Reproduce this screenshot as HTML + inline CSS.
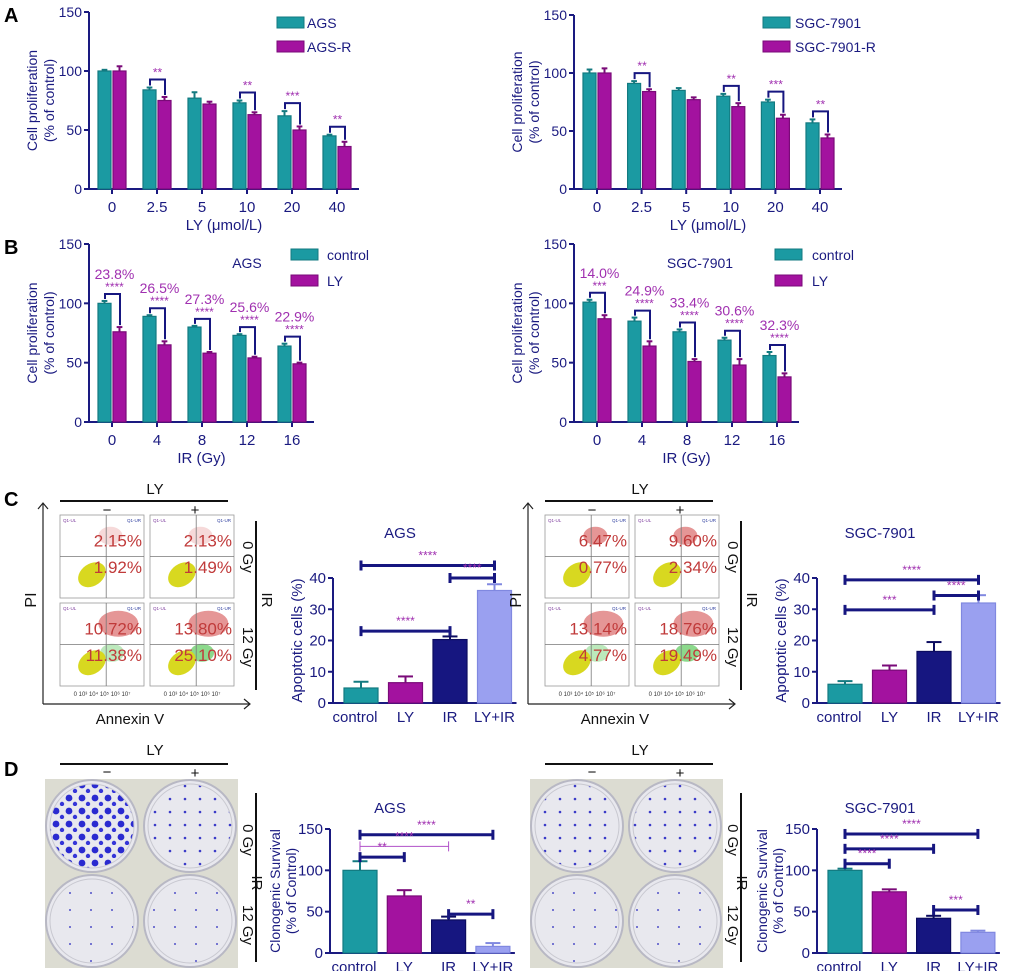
<!DOCTYPE html>
<html><head><meta charset="utf-8"><style>
body{margin:0;background:#fff}
svg{display:block;font-family:"Liberation Sans",Arial,sans-serif}
</style></head><body>
<svg id="fig" width="1020" height="971" viewBox="0 0 1020 971" xmlns="http://www.w3.org/2000/svg">
<defs>
<pattern id="dotsBig" width="13" height="13" patternUnits="userSpaceOnUse"><circle cx="4" cy="5" r="3.4" fill="#2a2ad0"/><circle cx="10" cy="11" r="2.2" fill="#3535d8"/></pattern>
<pattern id="dotsSmall" width="15" height="13" patternUnits="userSpaceOnUse"><circle cx="5" cy="6" r="1.3" fill="#3b3bc8"/></pattern>
<pattern id="dotsTiny" width="21" height="17" patternUnits="userSpaceOnUse"><circle cx="7" cy="9" r="1" fill="#5050c8"/></pattern>
</defs>
</svg>
<script>
const NS="http://www.w3.org/2000/svg";
const svg=document.getElementById('fig');
function mk(tag,attrs,parent,txt){const e=document.createElementNS(NS,tag);for(const k in attrs)e.setAttribute(k,attrs[k]);if(txt!==undefined)e.textContent=txt;(parent||svg).appendChild(e);return e;}
const AX="#1a1a80";

// ===== Data =====
const aCats=["0","2.5","5","10","20","40"];
const aAgs=[100,84,77,73,62,45];
const aAgsErr=[1,2,5,2,4,1];
const aAgsR=[100,75,72,63,50,36];
const aAgsRErr=[4,3,2,2,3,4];
const aSgc=[100,91,85,80,75,57];
const aSgcErr=[3,2,2,2,2,3];
const aSgcR=[100,84,77,71,61,44];
const aSgcRErr=[4,2,2,3,3,3];
const aLeftSig=[[1,"**"],[3,"**"],[4,"***"],[5,"**"]];
const aRightSig=[[1,"**"],[3,"**"],[4,"***"],[5,"**"]];
const bCats=["0","4","8","12","16"];
const bAgsCtl=[100,89,80,73,64];
const bAgsCtlErr=[2,1,1,1,2];
const bAgsLy=[76,65,58,54,49];
const bAgsLyErr=[4,3,1,1,1];
const bAgsPct=["23.8%","26.5%","27.3%","25.6%","22.9%"];
const bAgsStars=["****","****","****","****","****"];
const bSgcCtl=[101,85,76,69,56];
const bSgcCtlErr=[2,3,2,2,3];
const bSgcLy=[87,64,51,48,38];
const bSgcLyErr=[3,4,2,5,3];
const bSgcPct=["14.0%","24.9%","33.4%","30.6%","32.3%"];
const bSgcStars=["***","****","****","****","****"];
const grpCats=["control","LY","IR","LY+IR"];
const cAgs=[4.8,6.5,20.3,36];
const cAgsErr=[2,2,1,2];
const cSgc=[6,10.5,16.5,32];
const cSgcErr=[1,1.5,3,2.5];
const cAgsSig=[[0,3,44,"****"],[2,3,40,"****"],[0,2,23,"****"]];
const cSgcSig=[[0,3,39.4,"****"],[2,3,34.4,"****"],[0,2,29.8,"***"]];
const dAgs=[100,69,40,8];
const dAgsErr=[11,7,4,4];
const dSgc=[100,74,42,25];
const dSgcErr=[2,3,3,2];
const dAgsSig=[[0,3,143,"****"],[0,2,129,"****"],[0,1,116,"**"],[2,3,47,"**"]];
const dSgcSig=[[0,3,144,"****"],[0,2,126,"****"],[0,1,108,"****"],[2,3,52,"***"]];
const flowLeft=["2.15%","1.92%","2.13%","1.49%","10.72%","11.38%","13.80%","25.10%"];
const flowRight=["6.47%","0.77%","9.60%","2.34%","13.14%","4.77%","18.76%","19.49%"];

const TEAL="#1b9aa2",TEALD="#137a80",MAG="#a3129f",MAGD="#7a0a78",NAVY="#161680",LAV="#9aa0f0";

function axes(g,x0,xEnd,yS,max,ticks,fs){
  mk('line',{x1:x0,y1:yS(max),x2:x0,y2:yS(0),stroke:AX,'stroke-width':2},g);
  mk('line',{x1:x0,y1:yS(0),x2:xEnd,y2:yS(0),stroke:AX,'stroke-width':2},g);
  ticks.forEach(t=>{
    mk('line',{x1:x0-5,y1:yS(t),x2:x0,y2:yS(t),stroke:AX,'stroke-width':2},g);
    const tl=mk('text',{x:x0-7,y:yS(t)+5,'text-anchor':'end','font-size':fs,fill:AX},g,String(t));
    
    
  });
}
function bar(g,x,w,yS,v,err,fill,stroke,name){
  const r=mk('rect',{x:x,y:yS(v),width:w,height:yS(0)-yS(v),fill:fill,stroke:stroke,'stroke-width':1.2},g);
  
  
  const cx=x+w/2;
  mk('line',{x1:cx,y1:yS(v),x2:cx,y2:yS(v+err),stroke:stroke,'stroke-width':2},g);
  mk('line',{x1:cx-w*0.22,y1:yS(v+err),x2:cx+w*0.22,y2:yS(v+err),stroke:stroke,'stroke-width':2},g);
}
function yTitle(g,xs,cy,lines,fs){
  lines.forEach((t,i)=>{const e=mk('text',{x:0,y:0,transform:`translate(${xs[i]},${cy}) rotate(-90)`,'text-anchor':'middle','font-size':fs,fill:AX},g,t);
  });
}
function txt(g,x,y,s,fs,fill,anchor,name,extra){
  const e=mk('text',Object.assign({x:x,y:y,'font-size':fs,fill:fill||AX,'text-anchor':anchor||'middle'},extra||{}),g,s);
  
  
  return e;
}

// ===== Panel A / B paired charts =====
function pairChart(o){
  const g=mk('g',{});
  
  
  const yS=v=>o.yBot-(o.yBot-o.yTop)*v/150;
  const xS=i=>o.x0+23+i*o.step;
  axes(g,o.x0,xS(o.cats.length-1)+22,yS,150,[0,50,100,150],14);
  o.cats.forEach((c,i)=>{
    mk('line',{x1:xS(i),y1:yS(0),x2:xS(i),y2:yS(0)+5,stroke:AX,'stroke-width':2},g);
    txt(g,xS(i),yS(0)+23,c,15,AX,'middle','x-tick-label');
    bar(g,xS(i)-14,13,yS,o.s1[i],o.e1[i],TEAL,TEALD,'bar-'+o.n1+'-'+c);
    bar(g,xS(i)+1,13,yS,o.s2[i],o.e2[i],MAG,MAGD,'bar-'+o.n2+'-'+c);
  });
  (o.sig||[]).forEach(([i,s])=>{
    const y1=yS(o.s1[i]+o.e1[i]),y2=yS(o.s2[i]+o.e2[i]),top=Math.min(y1,y2)-8;
    const a=xS(i)-7,b=xS(i)+8;
    mk('polyline',{points:`${a},${y1-2} ${a},${top} ${b},${top} ${b},${y2-2}`,fill:'none',stroke:NAVY,'stroke-width':2},g);
    txt(g,(a+b)/2,top-3,s,12,'#a030b0','middle','significance-stars');
  });
  (o.pct||[]).forEach((p,i)=>{
    const y1=yS(o.s1[i]+o.e1[i]),y2=yS(o.s2[i]+o.e2[i]),top=Math.min(y1,y2)-7;
    const a=xS(i)-7,b=xS(i)+8;
    mk('polyline',{points:`${a},${y1-2} ${a},${top} ${b},${top} ${b},${y2-2}`,fill:'none',stroke:NAVY,'stroke-width':2},g);
    txt(g,(a+b)/2+2,top-3,o.stars[i],12,'#a030b0','middle','significance-stars');
    txt(g,(a+b)/2+2,top-15,p,14,'#a030b0','middle','percent-reduction');
  });
  yTitle(g,[o.x0-52,o.x0-35],(o.yTop+o.yBot)/2,["Cell proliferation","(% of control)"],14);
  txt(g,(o.x0+xS(o.cats.length-1)+22)/2,yS(0)+41,o.xTitle,15,AX,'middle','x-axis-title');
  const L=o.leg;
  [[TEAL,TEALD,L.l1,0],[MAG,MAGD,L.l2,1]].forEach(([f,s,l,k])=>{
    const r=mk('rect',{x:L.x,y:L.y+k*L.dy,width:27,height:11,fill:f,stroke:s},g);
    
    txt(g,L.x+L.tx,L.y+k*L.dy+11,l,14,AX,'start','legend-entry');
  });
  if(o.title)txt(g,o.title[0],o.title[1],o.title[2],14,AX,'middle','chart-title');
}
pairChart({name:'chart-a-ags',x0:89,yTop:12,yBot:189,step:45,cats:aCats,s1:aAgs,e1:aAgsErr,s2:aAgsR,e2:aAgsRErr,n1:'ags',n2:'ags-r',sig:aLeftSig,xTitle:'LY (μmol/L)',leg:{x:277,y:17,dy:24,tx:30,l1:'AGS',l2:'AGS-R'}});
pairChart({name:'chart-a-sgc',x0:574,yTop:15,yBot:189,step:44.6,cats:aCats,s1:aSgc,e1:aSgcErr,s2:aSgcR,e2:aSgcRErr,n1:'sgc',n2:'sgc-r',sig:aRightSig,xTitle:'LY (μmol/L)',leg:{x:763,y:17,dy:24,tx:32,l1:'SGC-7901',l2:'SGC-7901-R'}});
pairChart({name:'chart-b-ags',x0:89,yTop:244,yBot:422,step:45,cats:bCats,s1:bAgsCtl,e1:bAgsCtlErr,s2:bAgsLy,e2:bAgsLyErr,n1:'control',n2:'ly',pct:bAgsPct,stars:bAgsStars,xTitle:'IR (Gy)',leg:{x:291,y:249,dy:26,tx:36,l1:'control',l2:'LY'},title:[247,268,'AGS']});
pairChart({name:'chart-b-sgc',x0:574,yTop:244,yBot:422,step:45,cats:bCats,s1:bSgcCtl,e1:bSgcCtlErr,s2:bSgcLy,e2:bSgcLyErr,n1:'control',n2:'ly',pct:bSgcPct,stars:bSgcStars,xTitle:'IR (Gy)',leg:{x:775,y:249,dy:26,tx:37,l1:'control',l2:'LY'},title:[700,268,'SGC-7901']});

// ===== Panel C / D group charts =====
function groupChart(o){
  const g=mk('g',{});
  
  
  const yS=v=>o.yBot-(o.yBot-o.yTop)*v/o.max;
  const xS=i=>o.x0+o.first+i*o.step;
  axes(g,o.x0,xS(3)+22,yS,o.max,o.ticks,15);
  const fills=[[TEAL,TEALD],[MAG,MAGD],[NAVY,'#0c0c60'],[LAV,'#8088e0']];
  o.vals.forEach((v,i)=>{
    bar(g,xS(i)-17,34,yS,v,o.errs[i],fills[i][0],fills[i][1],'bar-'+grpCats[i].toLowerCase());
    txt(g,xS(i)+(i==0?-6:0),yS(0)+19,grpCats[i],15,AX,'middle','x-tick-label');
  });
  o.sig.forEach(([i,j,v,s],k)=>{
    const y=yS(v),a=xS(i),b=xS(j);
    const thin=(o.thinIdx===k);
    const col=thin?'#b050c8':NAVY,w=thin?1:3;
    mk('line',{x1:a,y1:y,x2:b,y2:y,stroke:col,'stroke-width':w},g);
    mk('line',{x1:a,y1:y-5,x2:a,y2:y+5,stroke:col,'stroke-width':w},g);
    mk('line',{x1:b,y1:y-5,x2:b,y2:y+5,stroke:col,'stroke-width':w},g);
    txt(g,(a+b)/2,y-6,s,12,'#a030b0','middle','significance-stars');
  });
  yTitle(g,o.tx,(o.yTop+o.yBot)/2,o.lines,o.lines.length>1?14:15);
  txt(g,o.title[0],o.title[1],o.title[2],15,AX,'middle','chart-title');
}
groupChart({name:'chart-c-ags',x0:333,yTop:578,yBot:703,max:40,ticks:[0,10,20,30,40],first:28,step:44.5,vals:cAgs,errs:cAgsErr,sig:cAgsSig,lines:['Apoptotic cells (%)'],tx:[302],title:[400,538,'AGS']});
groupChart({name:'chart-c-sgc',x0:817,yTop:578,yBot:703,max:40,ticks:[0,10,20,30,40],first:28,step:44.5,vals:cSgc,errs:cSgcErr,sig:cSgcSig,lines:['Apoptotic cells (%)'],tx:[786],title:[880,538,'SGC-7901']});
groupChart({name:'chart-d-ags',x0:330,yTop:829,yBot:953,max:150,ticks:[0,50,100,150],first:30,step:44.3,vals:dAgs,errs:dAgsErr,sig:dAgsSig,thinIdx:1,lines:['Clonogenic Survival','(% of Control)'],tx:[280,296],title:[390,813,'AGS']});
groupChart({name:'chart-d-sgc',x0:817,yTop:829,yBot:953,max:150,ticks:[0,50,100,150],first:28,step:44.3,vals:dSgc,errs:dSgcErr,sig:dSgcSig,lines:['Clonogenic Survival','(% of Control)'],tx:[767,783],title:[880,813,'SGC-7901']});

// ===== Flow cytometry panels =====
function flow(ox,vals,name,redBoost){
  const g=mk('g',{});
  
  
  txt(g,ox+155,494,'LY',15,'#111','middle','ly-label');
  mk('line',{x1:ox+60,y1:501,x2:ox+228,y2:501,stroke:'#111','stroke-width':2},g);
  txt(g,ox+107,515,'−',15,'#111','middle','minus-label');
  txt(g,ox+195,515,'+',15,'#111','middle','plus-label');
  mk('polyline',{points:`${ox+38},${509} ${ox+43},${503} ${ox+48},${509}`,fill:'none',stroke:'#222','stroke-width':1.2},g);
  mk('line',{x1:ox+43,y1:503,x2:ox+43,y2:704,stroke:'#222','stroke-width':1.2},g);
  mk('line',{x1:ox+43,y1:704,x2:ox+250,y2:704,stroke:'#222','stroke-width':1.2},g);
  mk('polyline',{points:`${ox+244},${699} ${ox+250},${704} ${ox+244},${709}`,fill:'none',stroke:'#222','stroke-width':1.2},g);
  txt(g,0,0,'PI',16,'#111','middle','y-axis-title',{transform:`translate(${ox+36},${600}) rotate(-90)`});
  txt(g,ox+130,724,'Annexin V',15,'#111','middle','x-axis-title');
  mk('line',{x1:ox+256,y1:521,x2:ox+256,y2:690,stroke:'#111','stroke-width':2},g);
  txt(g,0,0,'0 Gy',15,'#111','middle','dose-label',{transform:`translate(${ox+243},${557}) rotate(90)`});
  txt(g,0,0,'IR',15,'#111','middle','ir-label',{transform:`translate(${ox+262},${600}) rotate(90)`});
  txt(g,0,0,'12 Gy',15,'#111','middle','dose-label',{transform:`translate(${ox+243},${647}) rotate(90)`});
  const boxes=[[60,515],[150,515],[60,603],[150,603]];
  boxes.forEach(([bx,by],k)=>{
    const x=ox+bx,y=by,w=84,h=83;
    const bg=mk('g',{},g);
    
    
    mk('rect',{x:x,y:y,width:w,height:h,fill:'#fff',stroke:'#999','stroke-width':0.8},bg);
    const irr=k>=2;
    mk('ellipse',{cx:x+w*0.6+(irr?8:0),cy:y+h*0.25,rx:irr?20:12,ry:irr?13:9,fill:'#d04040',opacity:(irr||redBoost)?0.55:0.2},bg);
    if(irr)mk('ellipse',{cx:x+w*0.62,cy:y+h*0.6,rx:12,ry:9,fill:'#40c040',opacity:k==3?0.6:0.35},bg);
    mk('ellipse',{cx:x+w*0.38,cy:y+h*0.72,rx:15,ry:11,fill:'#d8d820',transform:`rotate(-35 ${x+w*0.38} ${y+h*0.72})`},bg);
    mk('line',{x1:x+w*0.55,y1:y,x2:x+w*0.55,y2:y+h,stroke:'#777','stroke-width':0.8},bg);
    mk('line',{x1:x,y1:y+h*0.5,x2:x+w,y2:y+h*0.5,stroke:'#777','stroke-width':0.8},bg);
    txt(bg,x+w-2,y+h*0.38,vals[k*2],17,'#c03a3a','end','quadrant-percent-ur');
    txt(bg,x+w-2,y+h*0.7,vals[k*2+1],17,'#c03a3a','end','quadrant-percent-lr');
    txt(bg,x+3,y+7,'Q1-UL',4.5,'#8040a0','start','quadrant-tag');
    txt(bg,x+w-3,y+7,'Q1-UR',4.5,'#3040a0','end','quadrant-tag');
    if(by===603)txt(bg,x+w/2,y+h+10,'0 10³  10⁴  10⁵  10⁶ 10⁷',6,'#333','middle','x-tick-label');
  });
}
flow(0,flowLeft,'flow-ags',false);
flow(485,flowRight,'flow-sgc',true);

// ===== Colony photos =====
function photos(ox,name,tl,tr,bl,br){
  const g=mk('g',{});
  
  
  txt(g,ox+155,755,'LY',15,'#111','middle','ly-label');
  mk('line',{x1:ox+60,y1:764,x2:ox+228,y2:764,stroke:'#111','stroke-width':2},g);
  txt(g,ox+107,777,'−',15,'#111','middle','minus-label');
  txt(g,ox+195,778,'+',15,'#111','middle','plus-label');
  mk('rect',{x:ox+45,y:779,width:193,height:189,fill:'#dcdcd2'},g);
  [[ox+92,826,tl],[ox+190,826,tr],[ox+92,921,bl],[ox+190,921,br]].forEach(([cx,cy,pat])=>{
    const d=mk('g',{},g);
    
    
    mk('circle',{cx:cx,cy:cy,r:46,fill:'#e8e8ee',stroke:'#b8b8c4','stroke-width':2},d);
    mk('circle',{cx:cx,cy:cy,r:42,fill:'url(#'+pat+')',stroke:'#c8c8d0','stroke-width':1},d);
  });
  mk('line',{x1:ox+256,y1:793,x2:ox+256,y2:962,stroke:'#111','stroke-width':2},g);
  txt(g,0,0,'0 Gy',15,'#111','middle','dose-label',{transform:`translate(${ox+243},${840}) rotate(90)`});
  txt(g,0,0,'IR',15,'#111','middle','ir-label',{transform:`translate(${ox+252},${883}) rotate(90)`});
  txt(g,0,0,'12 Gy',15,'#111','middle','dose-label',{transform:`translate(${ox+243},${925}) rotate(90)`});
}
photos(0,'colony-photos-ags','dotsBig','dotsSmall','dotsTiny','dotsTiny');
photos(485,'colony-photos-sgc','dotsSmall','dotsSmall','dotsTiny','dotsTiny');

[["A",4,22],["B",4,254],["C",4,506],["D",4,776]].forEach(([l,x,y])=>{
  txt(svg,x,y,l,20,'#000','start','panel-label-'+l.toLowerCase(),{'font-weight':'bold'});
});
</script>
</body></html>
